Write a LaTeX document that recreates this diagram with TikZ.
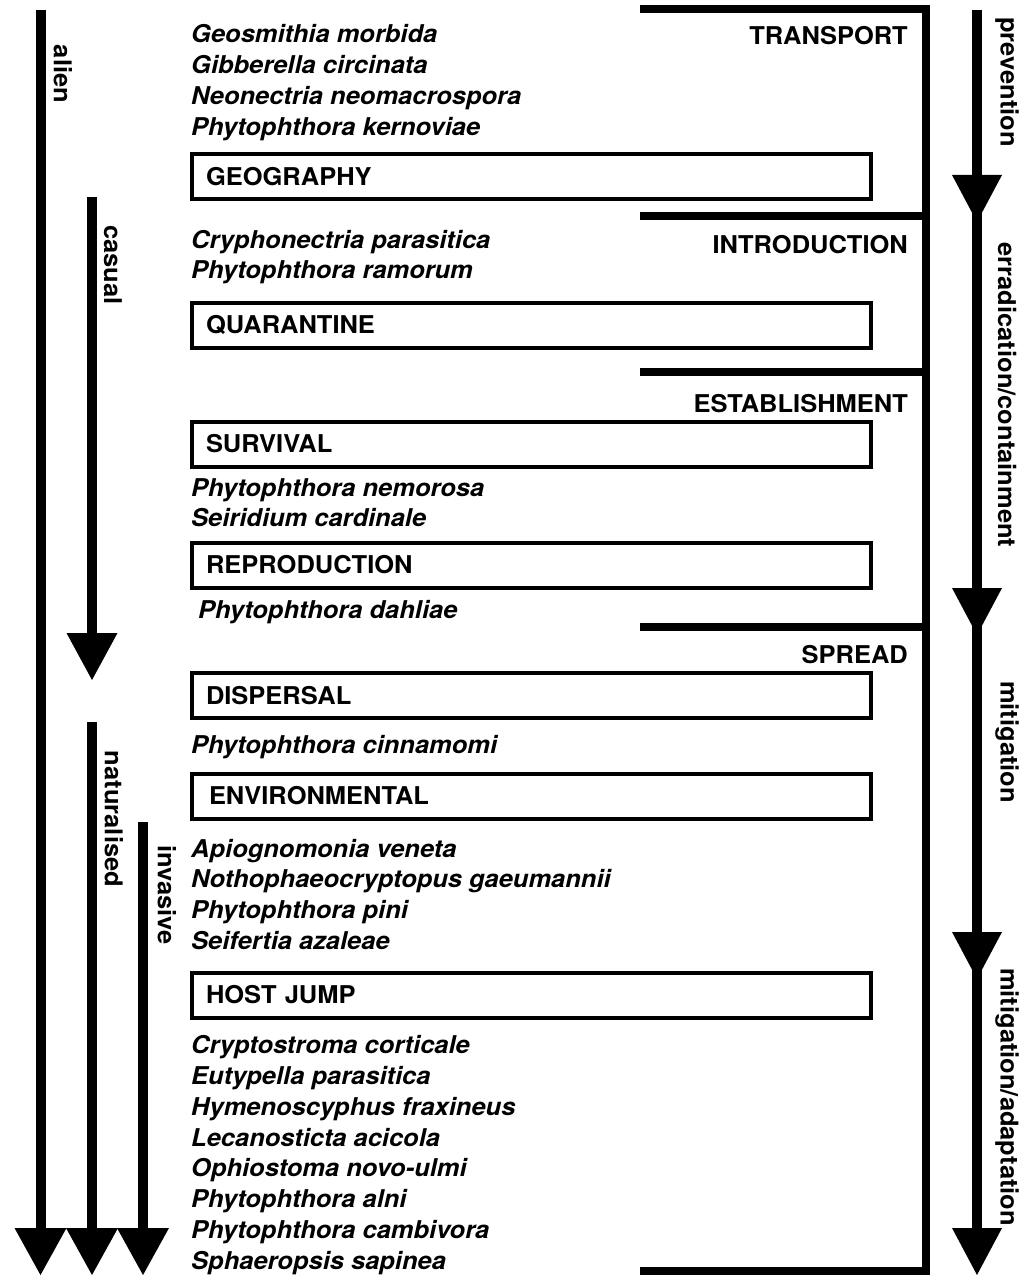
\documentclass[tikz,border=0pt]{standalone}
\usepackage{fontspec}
\setmainfont{TeX Gyre Heros}[FakeStretch=1.04]
\newcommand\myhead[3]{\fill (#1) -- ++(-#2,-#3) -- ++(2*#2,0) -- cycle;}
\begin{document}
\begin{tikzpicture}[x=1pt,y=-1pt,
  every node/.style={font=\fontsize{24.5}{24.5}\selectfont\bfseries, inner sep=0pt},
  species/.style={anchor=base west, font=\fontsize{24.5}{24.5}\selectfont\bfseries\itshape},
  stage/.style={anchor=base east},
  stepbox/.style={draw, line width=4pt, minimum width=679pt, minimum height=45pt,
    text width=651pt, inner xsep=14pt, inner ysep=0pt, align=left,
    text height=17.5pt, text depth=0pt},
  vlabel/.style={rotate=-90},
  shaft/.style={line width=10pt},
  bracket/.style={line width=8pt, line join=miter},
]
\useasboundingbox (0,0) rectangle (1023,1276);

% ---- left arrows ----
\coordinate (alienTop) at (40.5,10);   \coordinate (alienBase) at (40.5,1230);  \coordinate (alienTip) at (40.5,1275);
\coordinate (casTop) at (92,197);      \coordinate (casBase) at (92,634);       \coordinate (casTip) at (92,680);
\coordinate (natTop) at (92,722);      \coordinate (natBase) at (92,1230);      \coordinate (natTip) at (92,1275);
\coordinate (invTop) at (143,822);     \coordinate (invBase) at (143,1230);     \coordinate (invTip) at (143,1275);
\draw[shaft] (alienTop) -- (alienBase);
\draw[shaft] (casTop) -- (casBase);
\draw[shaft] (natTop) -- (natBase);
\draw[shaft] (invTop) -- (invBase);
\myhead{alienTip}{26}{47}
\myhead{casTip}{25.5}{47}
\myhead{natTip}{26}{47}
\myhead{invTip}{26}{47}
\node[vlabel] (lalien) at (63,74) {alien};
\node[vlabel] (lcasual) at (113,265) {casual};
\node[vlabel] (lnat) at (114,819) {naturalised};
\node[vlabel] (linv) at (167,895) {invasive};

% ---- right arrow ----
\coordinate (rTop) at (977,10);
\coordinate (rEnd) at (977,1232);
\coordinate (h1) at (977,222);
\coordinate (h2) at (977,635);
\coordinate (h3) at (977,979);
\coordinate (h4) at (977,1275);
\draw[shaft] (rTop) -- (rEnd);
\myhead{h1}{25}{47}
\myhead{h2}{25}{47}
\myhead{h3}{25}{47}
\myhead{h4}{25}{47}
\node[vlabel] (rprev) at (1007,82) {prevention};
\node[vlabel] (rerr) at (1007,395) {erradication/containment};
\node[vlabel] (rmit) at (1007,742) {mitigation};
\node[vlabel] (rmad) at (1007,1097) {mitigation/adaptation};

% ---- bracket ----
\coordinate (bTL) at (640,9);   \coordinate (bTR) at (926,9);
\coordinate (bBR) at (926,1271); \coordinate (bBL) at (640,1271);
\draw[bracket] (bTL) -- (bTR) -- (bBR) -- (bBL);
\coordinate (d1L) at (640,216); \coordinate (d1R) at (926,216);
\coordinate (d2L) at (640,372); \coordinate (d2R) at (926,372);
\coordinate (d3L) at (640,627); \coordinate (d3R) at (926,627);
\draw[bracket] (d1L) -- (d1R);
\draw[bracket] (d2L) -- (d2R);
\draw[bracket] (d3L) -- (d3R);

% ---- stage labels ----
\node[stage] (tTransport) at (908,45) {TRANSPORT};
\node[stage] (tIntro) at (908,253) {INTRODUCTION};
\node[stage] (tEstab) at (908,412) {ESTABLISHMENT};
\node[stage] (tSpread) at (908,663) {SPREAD};

% ---- boxes ----
\node[stepbox] (bGeo) at (531.5,176.5) {GEOGRAPHY};
\node[stepbox] (bQuar) at (531.5,325) {QUARANTINE};
\node[stepbox] (bSurv) at (531.5,444) {SURVIVAL};
\node[stepbox] (bRepr) at (531.5,565) {REPRODUCTION};
\node[stepbox] (bDisp) at (531.5,695.5) {DISPERSAL};
\node[stepbox] (bEnv) at (531.5,796) {\hspace*{3pt}ENVIRONMENTAL};
\node[stepbox] (bHost) at (531.5,995) {HOST JUMP};

% ---- species ----
\node[species] (s1) at (191,43) {Geosmithia morbida};
\node[species] (s2) at (191,74) {Gibberella circinata};
\node[species] (s3) at (191,105) {Neonectria neomacrospora};
\node[species] (s4) at (191,136) {Phytophthora kernoviae};
\node[species] (s5) at (191,248) {Cryphonectria parasitica};
\node[species] (s6) at (191,278) {Phytophthora ramorum};
\node[species] (s7) at (191,496) {Phytophthora nemorosa};
\node[species] (s8) at (191,526) {Seiridium cardinale};
\node[species] (s9) at (198,618) {Phytophthora dahliae};
\node[species] (s10) at (191,753) {Phytophthora cinnamomi};
\node[species] (s11) at (191,857) {Apiognomonia veneta};
\node[species] (s12) at (191,887) {Nothophaeocryptopus gaeumannii};
\node[species] (s13) at (191,918) {Phytophthora pini};
\node[species] (s14) at (191,949) {Seifertia azaleae};
\node[species] (s15) at (191,1053) {Cryptostroma corticale};
\node[species] (s16) at (191,1084) {Eutypella parasitica};
\node[species] (s17) at (191,1115) {Hymenoscyphus fraxineus};
\node[species] (s18) at (191,1146) {Lecanosticta acicola};
\node[species] (s19) at (191,1176) {Ophiostoma novo-ulmi};
\node[species] (s20) at (191,1207) {Phytophthora alni};
\node[species] (s21) at (191,1238) {Phytophthora cambivora};
\node[species] (s22) at (191,1269) {Sphaeropsis sapinea};
\end{tikzpicture}
\end{document}
